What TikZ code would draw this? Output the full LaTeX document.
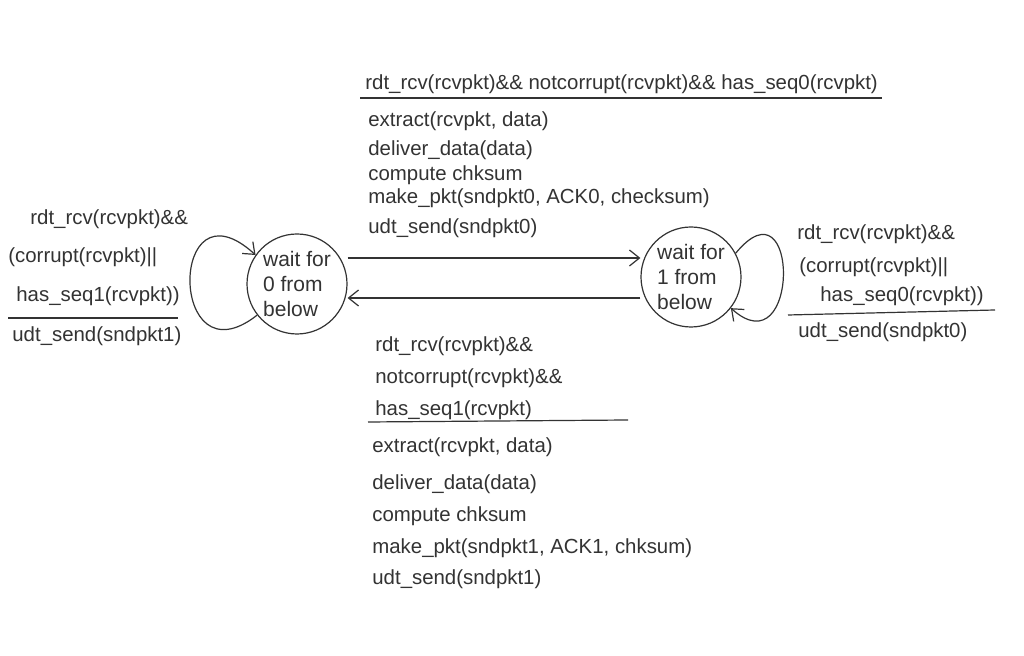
\documentclass[tikz,border=0pt]{standalone}
\usepackage{fontspec}
\setmainfont{Liberation Sans}
\usetikzlibrary{arrows.meta}
\begin{document}
\begin{tikzpicture}[x=0.5pt,y=-0.5pt,
  ink/.style={draw=black!80, line width=0.6pt},
  state/.style={circle, ink, minimum size=50pt, inner sep=-5pt, align=left, font=\fontsize{10.5}{12.5}\selectfont, text=black!80},
  lbl/.style={anchor=base west, inner sep=0pt, font=\fontsize{10.2}{12}\selectfont, text=black!80},
  arr/.style={ink, -{Straight Barb[length=5pt,width=8pt]}}]
\useasboundingbox (0,0) rectangle (1024,656);
\fill[white] (0,0) rectangle (1024,656);
% states
\node[state] (s0) at (297,284) {wait for\\0 from\\below};
\node[state] (s1) at (691,277) {wait for\\1 from\\below};
% transitions between states
\draw[arr] (s0.east |- 0,258) -- (s1.west |- 0,258);
\draw[arr] (s1.west |- 0,298) -- (s0.east |- 0,298);
% self loops
\draw[arr] (s0.218) .. controls (168,385) and (168,175) .. (s0.145);
\draw[arr] (s1.28) .. controls (800,175) and (800,370) .. (s1.322);
% top label
\node[lbl] (t1) at (365,90) {rdt\_rcv(rcvpkt)\&\& notcorrupt(rcvpkt)\&\& has\_seq0(rcvpkt)};
\coordinate (tl0) at (360,98); \coordinate (tl1) at (882,98);
\draw[ink] (tl0) -- (tl1);
\node[lbl] (t2) at (368,127) {extract(rcvpkt, data)};
\node[lbl] (t3) at (368,156) {deliver\_data(data)};
\node[lbl] (t4) at (368,181) {compute chksum};
\node[lbl] (t5) at (368,204) {make\_pkt(sndpkt0, ACK0, checksum)};
\node[lbl] (t6) at (368,234) {udt\_send(sndpkt0)};
% left label
\node[lbl] (l1) at (30,225) {rdt\_rcv(rcvpkt)\&\&};
\node[lbl] (l2) at (8,263) {(corrupt(rcvpkt)||};
\node[lbl] (l3) at (16,302) {has\_seq1(rcvpkt))};
\coordinate (ll0) at (8,318); \coordinate (ll1) at (178,318);
\draw[ink] (ll0) -- (ll1);
\node[lbl] (l4) at (12,342) {udt\_send(sndpkt1)};
% right label
\node[lbl] (r1) at (797,240) {rdt\_rcv(rcvpkt)\&\&};
\node[lbl] (r2) at (799,273) {(corrupt(rcvpkt)||};
\node[lbl] (r3) at (820,302) {has\_seq0(rcvpkt))};
\coordinate (rl0) at (788,315); \coordinate (rl1) at (995,310);
\draw[ink] (rl0) -- (rl1);
\node[lbl] (r4) at (798,338) {udt\_send(sndpkt0)};
% bottom label
\node[lbl] (b1) at (375,352) {rdt\_rcv(rcvpkt)\&\&};
\node[lbl] (b2) at (375,384) {notcorrupt(rcvpkt)\&\&};
\node[lbl] (b3) at (375,416) {has\_seq1(rcvpkt)};
\coordinate (bl0) at (368,422); \coordinate (bl1) at (628,420);
\draw[ink] (bl0) -- (bl1);
\node[lbl] (b4) at (372,453) {extract(rcvpkt, data)};
\node[lbl] (b5) at (372,490) {deliver\_data(data)};
\node[lbl] (b6) at (372,522) {compute chksum};
\node[lbl] (b7) at (372,554) {make\_pkt(sndpkt1, ACK1, chksum)};
\node[lbl] (b8) at (372,585) {udt\_send(sndpkt1)};
\end{tikzpicture}
\end{document}
